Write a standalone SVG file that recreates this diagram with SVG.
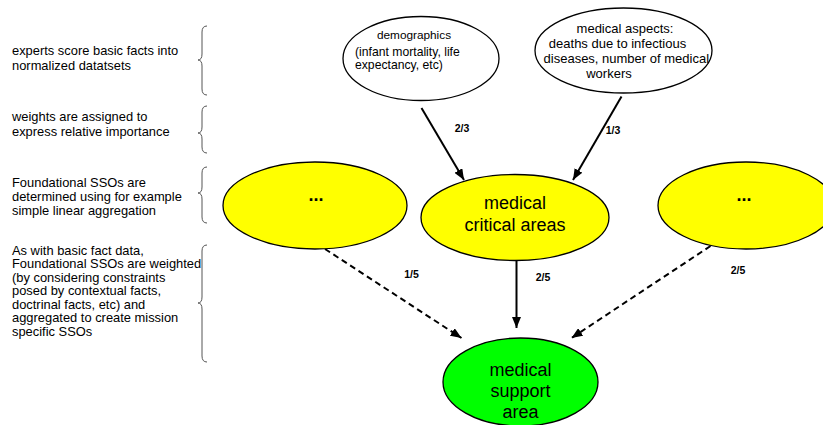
<svg xmlns="http://www.w3.org/2000/svg" width="823" height="425" viewBox="0 0 823 425">
<style>
  .note { font-family: "Liberation Sans", Arial, sans-serif; font-size: 12.9px; fill: #000; }
  .brace { fill: none; stroke: #555; stroke-width: 1; }
  .node { stroke: #000; stroke-width: 1.3; }
  .white { fill: #fff; }
  .yellow { fill: #ffff00; }
  .green { fill: #00ff00; }
  .t { font-family: "Liberation Sans", Arial, sans-serif; fill: #000; }
  .big { font-size: 18px; text-anchor: middle; }
  .small { font-size: 13px; text-anchor: middle; }
  .lbl { font-family: "Liberation Sans", Arial, sans-serif; font-size: 10.5px; font-weight: bold; fill: #000; text-anchor: middle; }
  .edge { stroke: #000; stroke-width: 2; fill: none; marker-end: url(#arr); }
  .dash { stroke-dasharray: 6 4; }
</style>
<defs>
  <marker id="arr" markerUnits="userSpaceOnUse" markerWidth="11" markerHeight="9" refX="11" refY="4.5" orient="auto">
    <path d="M0,0 L11,4.5 L0,9 z" fill="#000"/>
  </marker>
</defs>
<rect width="823" height="425" fill="#fff"/>

<g id="notes">
  <text class="note" x="12" y="54.5">experts score basic facts into</text>
  <text class="note" x="12" y="69.5">normalized datatsets</text>
  <text class="note" x="12" y="121">weights are assigned to</text>
  <text class="note" x="12" y="136">express relative importance</text>
  <text class="note" x="12" y="187">Foundational SSOs are</text>
  <text class="note" x="12" y="201">determined using for example</text>
  <text class="note" x="12" y="215">simple linear aggregation</text>
  <text class="note" x="12" y="254.5">As with basic fact data,</text>
  <text class="note" x="12" y="268">Foundational SSOs are weighted</text>
  <text class="note" x="12" y="281.5">(by considering constraints</text>
  <text class="note" x="12" y="295">posed by contextual facts,</text>
  <text class="note" x="12" y="308.5">doctrinal facts, etc) and</text>
  <text class="note" x="12" y="322">aggregated to create mission</text>
  <text class="note" x="12" y="335.5">specific SSOs</text>
</g>

<g id="braces">
  <path class="brace" d="M207,26 Q202,26 202,32 L202,54 Q202,60 198,60 Q202,60 202,66 L202,89 Q202,95 207,95"/>
  <path class="brace" d="M207,106 Q202,106 202,112 L202,127 Q202,133 198,133 Q202,133 202,139 L202,147 Q202,153 207,153"/>
  <path class="brace" d="M207,167 Q202,167 202,173 L202,187 Q202,193 198,193 Q202,193 202,199 L202,217 Q202,223 207,223"/>
  <path class="brace" d="M207,245 Q202,245 202,251 L202,297 Q202,303 198,303 Q202,303 202,309 L202,356 Q202,362 207,362"/>
</g>

<g id="connectors">
  <line class="edge" x1="421.5" y1="108" x2="464" y2="180"/>
  <line class="edge" x1="621.5" y1="96.5" x2="573" y2="180"/>
  <line class="edge" x1="516.5" y1="260" x2="516.5" y2="328"/>
  <line class="edge dash" x1="325" y1="249" x2="461.5" y2="338"/>
  <line class="edge dash" x1="710.5" y1="246" x2="571.5" y2="338"/>
  <text class="lbl" x="462" y="131.5">2/3</text>
  <text class="lbl" x="613" y="133.5">1/3</text>
  <text class="lbl" x="411.5" y="277.5">1/5</text>
  <text class="lbl" x="543" y="280.5">2/5</text>
  <text class="lbl" x="738" y="273.5">2/5</text>
</g>

<g id="demographics">
  <ellipse class="node white" cx="421" cy="58.5" rx="78" ry="42"/>
  <text class="t" x="414" y="39" font-size="11.8" text-anchor="middle">demographics</text>
  <text class="t" x="355" y="55.5" font-size="12.2">(infant mortality, life</text>
  <text class="t" x="355" y="69" font-size="12.2">expectancy, etc)</text>
</g>

<g id="medical-aspects">
  <ellipse class="node white" cx="623.5" cy="50.5" rx="88.5" ry="42.5"/>
  <text class="t small" x="625" y="33">medical aspects:</text>
  <text class="t small" x="617.5" y="48">deaths due to infectious</text>
  <text class="t small" x="626.3" y="63">diseases, number of medical</text>
  <text class="t small" x="609" y="77.5">workers</text>
</g>

<g id="left-sso">
  <ellipse class="node yellow" cx="315" cy="205.5" rx="92" ry="43.5"/>
  <text class="t big" x="316" y="201" font-weight="bold">...</text>
</g>

<g id="medical-critical-areas">
  <ellipse class="node yellow" cx="515" cy="217.5" rx="94" ry="43"/>
  <text class="t big" x="515" y="208.5">medical</text>
  <text class="t big" x="515" y="231">critical areas</text>
</g>

<g id="right-sso">
  <ellipse class="node yellow" cx="746" cy="205.5" rx="88" ry="43.5"/>
  <text class="t big" x="744" y="201" font-weight="bold">...</text>
</g>

<g id="medical-support-area">
  <ellipse class="node green" cx="520.5" cy="382" rx="77.5" ry="44"/>
  <text class="t big" x="520.5" y="375.5">medical</text>
  <text class="t big" x="520.5" y="396.5">support</text>
  <text class="t big" x="520.5" y="417.5">area</text>
</g>
</svg>
